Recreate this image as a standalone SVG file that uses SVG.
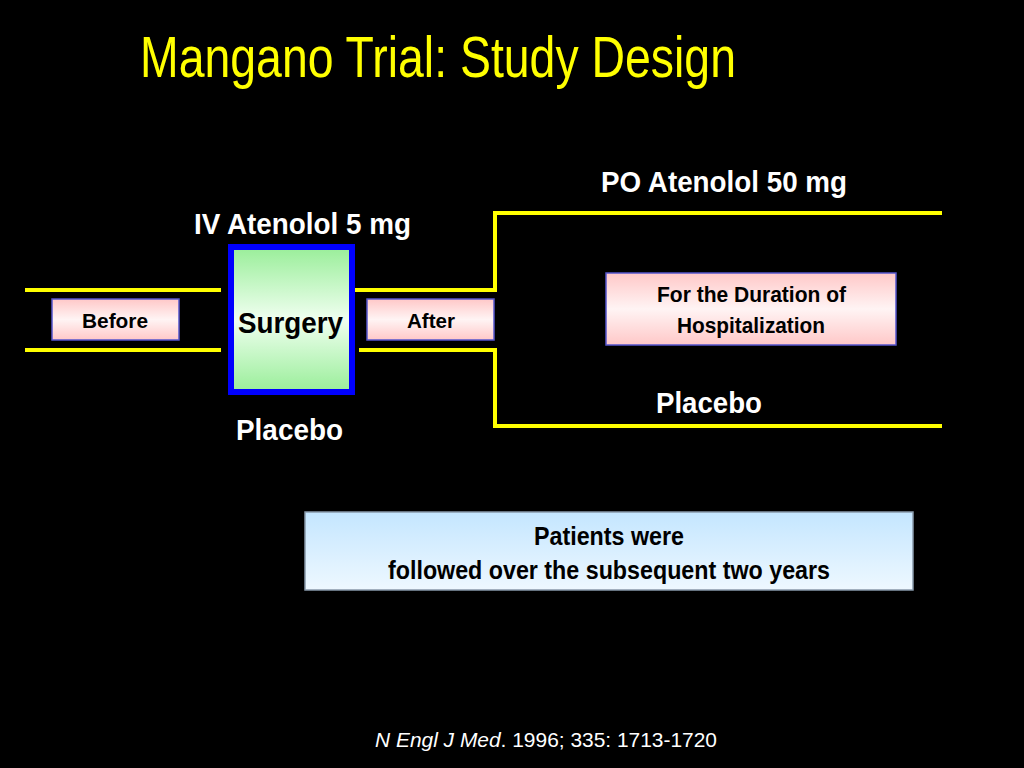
<svg xmlns="http://www.w3.org/2000/svg" width="1024" height="768" viewBox="0 0 1024 768">
<defs>
<linearGradient id="pink" x1="0" y1="0" x2="0" y2="1">
<stop offset="0" stop-color="#ffc8c8"/>
<stop offset="0.5" stop-color="#fff4f4"/>
<stop offset="1" stop-color="#ffc8c8"/>
</linearGradient>
<linearGradient id="green" x1="0" y1="0" x2="0" y2="1">
<stop offset="0" stop-color="#99ee99"/>
<stop offset="0.5" stop-color="#f0fff0"/>
<stop offset="1" stop-color="#99ee99"/>
</linearGradient>
<linearGradient id="blue" x1="0" y1="0" x2="0" y2="1">
<stop offset="0" stop-color="#c4e6ff"/>
<stop offset="1" stop-color="#eef8ff"/>
</linearGradient>
</defs>
<style>
text{font-family:"Liberation Sans Narrow","Liberation Sans",Arial,sans-serif;}
.b{font-weight:bold;}
.w{fill:#ffffff;}
.k{fill:#000000;}
.line{stroke:#ffff00;stroke-width:4;fill:none;}
.pbox{fill:url(#pink);stroke:#5555cc;stroke-width:1.5;}
</style>
<rect x="0" y="0" width="1024" height="768" fill="#000000"/>
<text x="140" y="77" font-size="58" fill="#ffff00" textLength="596" lengthAdjust="spacingAndGlyphs">Mangano Trial: Study Design</text>
<g id="connectors">
<line class="line" x1="25" y1="290" x2="221" y2="290"/>
<line class="line" x1="25" y1="350" x2="221" y2="350"/>
<polyline class="line" points="350,290 495,290 495,213 942,213"/>
<polyline class="line" points="359,350 495,350 495,426 942,426"/>
</g>
<g id="before">
<rect class="pbox" x="52" y="299" width="127" height="41"/>
<text x="115" y="328" font-size="21" class="b k" text-anchor="middle" textLength="66" lengthAdjust="spacingAndGlyphs">Before</text>
</g>
<g id="surgery">
<rect x="231" y="247" width="121" height="145" fill="url(#green)" stroke="#0000ff" stroke-width="6"/>
<text x="290.5" y="333" font-size="29" class="b k" text-anchor="middle" textLength="105" lengthAdjust="spacingAndGlyphs">Surgery</text>
</g>
<g id="after">
<rect class="pbox" x="367" y="299" width="127" height="41"/>
<text x="431" y="328" font-size="21" class="b k" text-anchor="middle" textLength="48" lengthAdjust="spacingAndGlyphs">After</text>
</g>
<g id="iv-label">
<text x="302.5" y="234" font-size="29" class="b w" text-anchor="middle" textLength="217" lengthAdjust="spacingAndGlyphs">IV Atenolol 5 mg</text>
</g>
<g id="placebo-left">
<text x="289.5" y="440" font-size="29" class="b w" text-anchor="middle" textLength="107" lengthAdjust="spacingAndGlyphs">Placebo</text>
</g>
<g id="po-label">
<text x="724" y="192" font-size="29" class="b w" text-anchor="middle" textLength="246" lengthAdjust="spacingAndGlyphs">PO Atenolol 50 mg</text>
</g>
<g id="placebo-right">
<text x="709" y="413" font-size="29" class="b w" text-anchor="middle" textLength="106" lengthAdjust="spacingAndGlyphs">Placebo</text>
</g>
<g id="duration">
<rect class="pbox" x="606" y="273" width="290" height="72"/>
<text x="751.5" y="302" font-size="22" class="b k" text-anchor="middle" textLength="189" lengthAdjust="spacingAndGlyphs">For the Duration of</text>
<text x="751" y="333" font-size="22" class="b k" text-anchor="middle" textLength="148" lengthAdjust="spacingAndGlyphs">Hospitalization</text>
</g>
<g id="followup">
<rect x="305" y="512" width="608" height="78" fill="url(#blue)" stroke="#8899aa" stroke-width="1.5"/>
<text x="609" y="545" font-size="25" class="b k" text-anchor="middle" textLength="150" lengthAdjust="spacingAndGlyphs">Patients were</text>
<text x="609" y="579" font-size="25" class="b k" text-anchor="middle" textLength="442" lengthAdjust="spacingAndGlyphs">followed over the subsequent two years</text>
</g>
<text x="375" y="747" font-size="21" class="w" textLength="342" lengthAdjust="spacingAndGlyphs"><tspan font-style="italic">N Engl J Med</tspan>. 1996; 335: 1713-1720</text>
</svg>
